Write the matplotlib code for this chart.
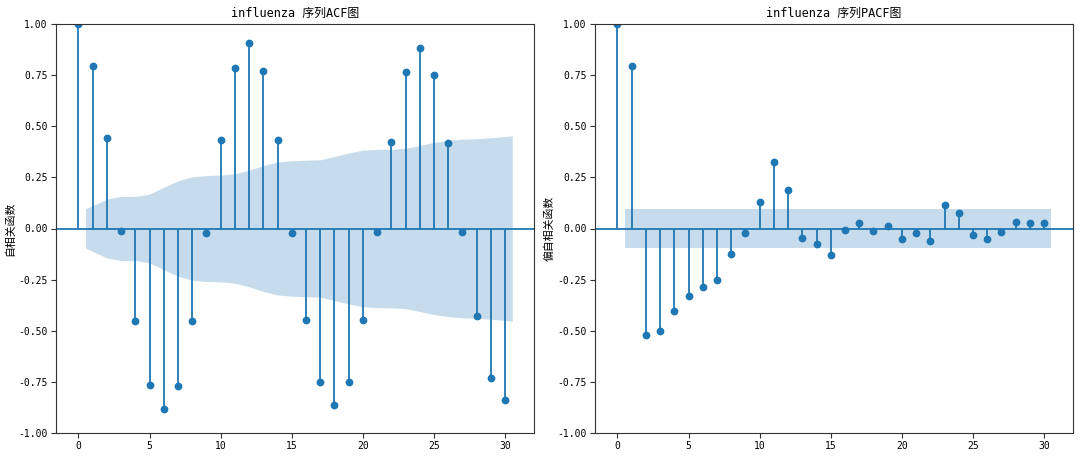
import numpy as np
import matplotlib
matplotlib.use("Agg")
import matplotlib.pyplot as plt
from matplotlib.ticker import FormatStrFormatter

plt.rcParams['font.family'] = ['DejaVu Sans Mono', 'Noto Sans CJK SC']
plt.rcParams['axes.unicode_minus'] = False

lags = list(range(31))
acf_vals = [1.0, 0.796, 0.444, -0.011, -0.451, -0.767, -0.883, -0.772, -0.454, -0.021,
            0.431, 0.783, 0.907, 0.768, 0.431, -0.021, -0.446, -0.749, -0.865, -0.751,
            -0.445, -0.015, 0.423, 0.765, 0.884, 0.752, 0.418, -0.016, -0.430, -0.730, -0.840]
# confidence band half-width for lags 1..30 (ACF)
acf_band = [0.096, 0.144, 0.157, 0.157, 0.168, 0.202, 0.233, 0.253, 0.259, 0.261,
            0.268, 0.285, 0.308, 0.325, 0.331, 0.334, 0.336, 0.352, 0.369, 0.383,
            0.387, 0.388, 0.392, 0.406, 0.421, 0.431, 0.437, 0.439, 0.444, 0.453]
pacf_vals = [1.0, 0.796, -0.523, -0.502, -0.402, -0.329, -0.285, -0.251, -0.127, -0.020,
             0.131, 0.326, 0.188, -0.046, -0.075, -0.129, -0.007, 0.029, -0.011, 0.013,
             -0.050, -0.024, -0.060, 0.117, 0.077, -0.033, -0.050, -0.016, 0.034, 0.029, 0.026]
pacf_band = [0.0945] * 30

titles = ['influenza 序列ACF图', 'influenza 序列PACF图']
ylabels = ['自相关函数', '偏自相关函数']

fig = plt.figure(figsize=(10.8, 4.57), dpi=100)
ax1 = fig.add_axes([56/1080, 24/457, 478/1080, 409/457])
ax2 = fig.add_axes([595/1080, 24/457, 478/1080, 409/457])

color = '#1f77b4'
for ax, vals, band, title, ylabel in [(ax1, acf_vals, acf_band, titles[0], ylabels[0]),
                                      (ax2, pacf_vals, pacf_band, titles[1], ylabels[1])]:
    x = np.array(lags, dtype=float)
    v = np.array(vals)
    ax.vlines(x, 0, v, color=color, linewidth=1.3)
    ax.plot(x, v, 'o', color=color, markersize=4.6, clip_on=True)
    ax.axhline(0, color=color, linewidth=1.3)
    bx = x[1:].copy()
    bx[0] -= 0.5
    bx[-1] += 0.5
    b = np.array(band)
    ax.fill_between(bx, -b, b, color=color, alpha=0.25, linewidth=0)
    ax.set_xlim(-1.58, 32.03)
    ax.set_ylim(-1, 1)
    ax.set_yticks(np.arange(-1, 1.01, 0.25))
    ax.set_xticks(range(0, 31, 5))
    ax.yaxis.set_major_formatter(FormatStrFormatter('%.2f'))
    ax.tick_params(labelsize=7.0, length=3.5, width=0.8, color='#333333', pad=2.5)
    ax.set_title(title, fontsize=8.6, pad=5)
    ax.set_ylabel(ylabel, fontsize=7.8, labelpad=2)
    for s in ax.spines.values():
        s.set_linewidth(0.8)
        s.set_color('#333333')

fig.savefig('out.png', dpi=100)
